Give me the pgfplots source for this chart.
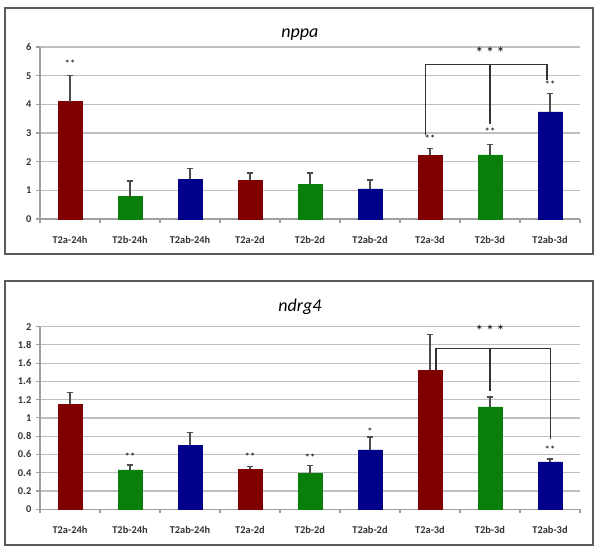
\documentclass[border=0pt]{standalone}
\usepackage{pgfplots}
\pgfplotsset{compat=1.18}
\usepackage{fontspec}
\setmainfont{Carlito}
\definecolor{barred}{HTML}{800000}
\definecolor{bargreen}{HTML}{087F08}
\definecolor{barblue}{HTML}{00008A}
\definecolor{frame}{HTML}{5A5A5A}

\pgfplotsset{
  panel/.style={
    scale only axis, width=405pt,
    xmin=-0.5, xmax=8.5, ymin=0,
    axis x line*=bottom, axis y line*=left,
    axis line style={gray!75, line width=0.8pt},
    xtick={0,...,8},
    xticklabels={T2a-24h,T2b-24h,T2ab-24h,T2a-2d,T2b-2d,T2ab-2d,T2a-3d,T2b-3d,T2ab-3d},
    major x tick style={draw=none},
    minor xtick={-0.5,0.5,...,8.5},
    minor tick style={gray!75, line width=0.8pt},
    minor tick length=3pt,
    major tick length=3pt,
    tick align=outside,
    y tick style={gray!75, line width=0.8pt},
    ymajorgrids, grid style={gray!50, line width=0.9pt},
    tick label style={font=\bfseries\fontsize{7.8}{8}\selectfont, text=black!80},
    /pgf/number format/assume math mode=true,
    xticklabel style={yshift=-6pt},
    ybar, bar width=0.4, bar shift=0pt,
    clip=false,
  },
  errs/.style={
    error bars/.cd, y dir=plus, y explicit,
    error mark=-,
    error bar style={black!70, line width=1pt},
    error mark options={black!70, rotate=90, mark size=2.5pt, line width=1pt},
  },
}
\newcommand{\sig}[1]{{\fontsize{8}{8}\selectfont #1}}

\begin{document}
\begin{tikzpicture}
\path[use as bounding box] (0,0) rectangle (450pt,413.25pt);
\draw[frame, line width=1.1pt] (3.75pt,222.75pt) rectangle (444.75pt,407.25pt);
\draw[frame, line width=1.1pt] (3.75pt,4.5pt) rectangle (444.75pt,202.5pt);
\node[font=\itshape\fontsize{13.5}{13.5}\selectfont] at (225pt,387.5pt) {nppa};
\node[font=\itshape\fontsize{13.5}{13.5}\selectfont] at (225pt,183.5pt) {ndrg4};

% nppa
\begin{axis}[panel, at={(30pt,249pt)}, anchor=south west, height=129pt,
  ymax=6, ytick={0,...,6}]
\addplot[fill=barred, draw=barred, errs] coordinates {
  (0,4.09) +- (0,0.91) (3,1.36) +- (0,0.25) (6,2.22) +- (0,0.24)};
\addplot[fill=bargreen, draw=bargreen, errs] coordinates {
  (1,0.78) +- (0,0.55) (4,1.21) +- (0,0.39) (7,2.24) +- (0,0.35)};
\addplot[fill=barblue, draw=barblue, errs] coordinates {
  (2,1.39) +- (0,0.38) (5,1.05) +- (0,0.31) (8,3.74) +- (0,0.64)};
\node at (axis cs:0,5.4) {\sig{**}};
\node at (axis cs:6,2.8) {\sig{**}};
\node at (axis cs:7,3.03) {\sig{**}};
\node at (axis cs:8,4.7) {\sig{**}};
\draw[black!80, line width=0.8pt] (axis cs:5.93,2.93) -- (axis cs:5.93,5.4) -- (axis cs:7.95,5.4) -- (axis cs:7.95,4.84);
\draw[black!80, line width=0.8pt] (axis cs:7,5.4) -- (axis cs:7,3.3);
\node at (axis cs:7,5.8) {{\fontsize{12}{12}\selectfont *\,*\,*}};
\end{axis}

% ndrg4
\begin{axis}[panel, at={(30pt,31.3pt)}, anchor=south west, height=137pt,
  ymax=2, ytick={0,0.2,...,2.01},
  yticklabel style={/pgf/number format/fixed, /pgf/number format/precision=1}]
\addplot[fill=barred, draw=barred, errs] coordinates {
  (0,1.15) +- (0,0.13) (3,0.44) +- (0,0.03) (6,1.52) +- (0,0.39)};
\addplot[fill=bargreen, draw=bargreen, errs] coordinates {
  (1,0.43) +- (0,0.055) (4,0.39) +- (0,0.09) (7,1.12) +- (0,0.11)};
\addplot[fill=barblue, draw=barblue, errs] coordinates {
  (2,0.70) +- (0,0.14) (5,0.65) +- (0,0.14) (8,0.52) +- (0,0.03)};
\node at (axis cs:1,0.58) {\sig{**}};
\node at (axis cs:3,0.58) {\sig{**}};
\node at (axis cs:4,0.56) {\sig{**}};
\node at (axis cs:5,0.85) {\sig{*}};
\node at (axis cs:8,0.65) {\sig{**}};
\draw[black!80, line width=0.8pt] (axis cs:6.1,1.52) -- (axis cs:6.1,1.76) -- (axis cs:8.01,1.76) -- (axis cs:8.01,0.77);
\draw[black!80, line width=0.8pt] (axis cs:7,1.76) -- (axis cs:7,1.29);
\node at (axis cs:7,1.95) {{\fontsize{12}{12}\selectfont *\,*\,*}};
\end{axis}
\end{tikzpicture}
\end{document}
